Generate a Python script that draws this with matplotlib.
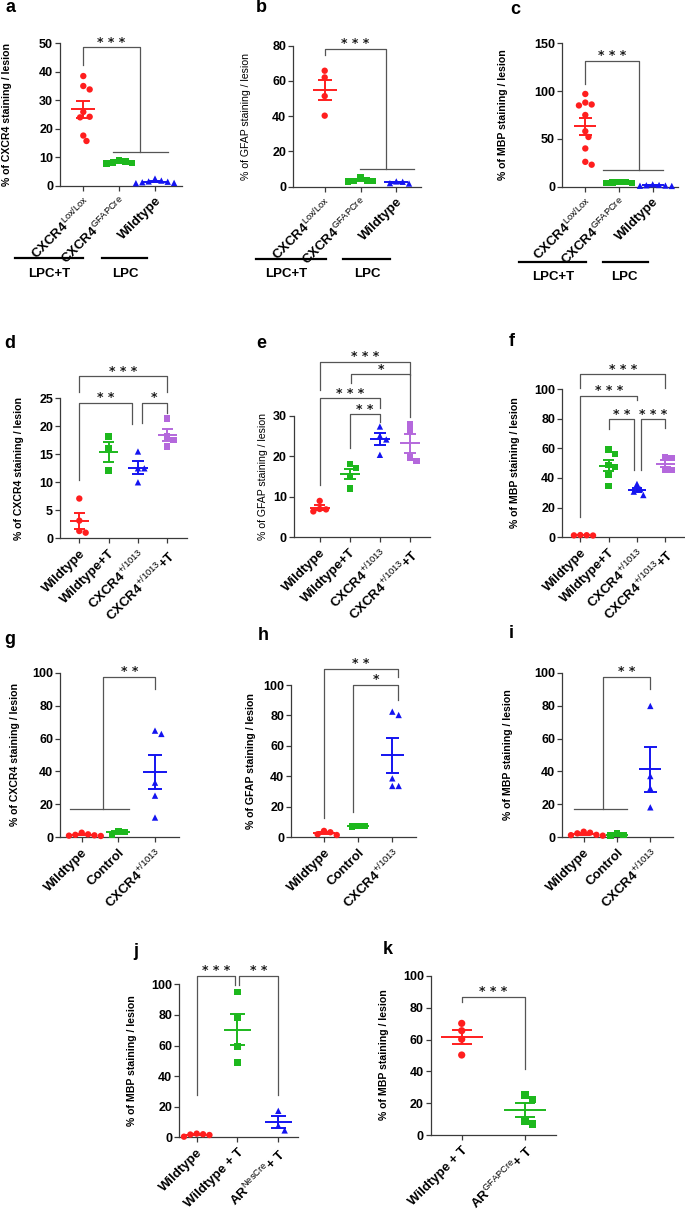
import matplotlib
matplotlib.use('Agg')
import matplotlib.pyplot as plt
from matplotlib.lines import Line2D
import numpy as np

plt.rcParams['font.family'] = ['Liberation Sans', 'DejaVu Sans']
plt.rcParams['mathtext.fontset'] = 'custom'
plt.rcParams['mathtext.rm'] = 'Liberation Sans'
plt.rcParams['mathtext.it'] = 'Liberation Sans:italic'
plt.rcParams['mathtext.bf'] = 'Liberation Sans:bold'

# ---------------- data ----------------
labels_abc = [r'CXCR4$^{\mathrm{Lox/Lox}}$', r'CXCR4$^{\mathrm{GFAPCre}}$', 'Wildtype']
labels_def = ['Wildtype', 'Wildtype+T', r'CXCR4$^{\mathrm{+/1013}}$', r'CXCR4$^{\mathrm{+/1013}}$+T']
labels_ghi = ['Wildtype', 'Control', r'CXCR4$^{\mathrm{+/1013}}$']
labels_j = ['Wildtype', 'Wildtype + T', r'AR$^{\mathrm{NesCre}}$+ T']
labels_k = ['Wildtype + T', r'AR$^{\mathrm{GFAPCre}}$+ T']

red_a = [38.5, 35.0, 33.8, 25.9, 24.2, 24.0, 17.6, 15.7]
green_a = [8.9, 8.5, 8.2, 7.8, 8.0]
blue_a = [2.5, 1.8, 1.5, 1.2, 1.0, 0.9, 1.4]

red_b = [65.8, 62.0, 51.4, 40.3]
green_b = [5.5, 3.5, 3.0, 3.2, 3.4]
blue_b = [3.0, 2.0, 2.8, 1.8]

red_c = [97, 88, 86, 85, 75, 58, 52, 40, 26, 23]
green_c = [5.0, 4.5, 4.2, 4.0, 4.6]
blue_c = [2.5, 1.5, 1.2, 1.8, 1.0, 0.8]

red_d = [7.1, 3.15, 1.0, 1.3]
green_d = [18.2, 16.1, 12.1]
blue_d = [15.5, 12.5, 12.5, 10.0]
purple_d = [21.4, 18.2, 17.5, 16.4]

red_e = [9.0, 7.0, 6.9, 6.4]
green_e = [18.1, 17.1, 15.2, 12.1]
blue_e = [27.4, 25.1, 24.2, 20.4]
purple_e = [28.0, 26.4, 19.7, 18.9]

red_f = [1.5, 1.4, 1.3, 1.2]
green_f = [59.3, 56.2, 48.8, 47.6, 42.0, 34.8]
blue_f = [36.0, 32.4, 30.8, 28.5]
purple_f = [53.7, 53.3, 45.8, 45.4]

red_g = [2.8, 1.8, 1.2, 1.5, 1.0, 0.8]
green_g = [1.4, 4.0, 3.4]
blue_g = [64.8, 62.8, 33.2, 25.3, 12.0]

red_h = [2.0, 4.2, 1.5, 3.3]
green_h = [7.0, 7.4, 7.4]
blue_h = [82.5, 80.3, 38.7, 33.7, 33.7]

red_i = [3.4, 2.4, 1.5, 2.8, 1.3, 1.0]
green_i = [1.2, 2.4, 1.5]
blue_i = [79.8, 37.2, 29.8, 18.2]

red_j = [0.4, 1.5, 2.4, 1.8, 2.0]
green_j = [94.8, 77.8, 59.3, 48.8]
blue_j = [17.3, 7.6, 4.5]

red_k = [70.2, 65.6, 60.2, 50.3]
green_k = [25.2, 22.4, 8.4, 6.9]

# ---------------- style ----------------
RED = '#FF1E1E'
GREEN = '#1DB81D'
BLUE = '#1414F0'
PURPLE = '#B468DC'
LINEC = '#555555'
SPINEC = '#3a3a3a'

W, H = 685, 1212
fig = plt.figure(figsize=(W / 100, H / 100), dpi=100)


def swarm(vals, xpx, ypx, d):
    vals = np.asarray(vals, float)
    order = np.argsort(-vals)
    placed = []
    offs = np.zeros(len(vals))
    cands = [0.0]
    for k in range(1, 40):
        cands += [k * d * 0.5, -k * d * 0.5]
    for i in order:
        y = vals[i] * ypx
        for c in cands:
            if all((c - px) ** 2 + (y - py) ** 2 >= d * d * 0.95 for px, py in placed):
                break
        placed.append((c, y))
        offs[i] = c / xpx
    return offs


def panel(box, groups, colors, markers, labels, ymax, ystep, ms=21, mean_hw=0.33, cap_hw=0.19):
    left, right, top, bottom, c0, c1 = box
    n = len(groups)
    sp = (c1 - c0) / (n - 1)
    ax = fig.add_axes([left / W, 1 - bottom / H, (right - left) / W, (bottom - top) / H])
    ax.set_xlim((left - c0) / sp, (right - c0) / sp)
    ax.set_ylim(0, ymax)
    ypx = (bottom - top) / ymax
    d = np.sqrt(ms) * 100 / 72 * 1.0
    for i, (vals, col, mk) in enumerate(zip(groups, colors, markers)):
        offs = swarm(vals, sp, ypx, d)
        ax.scatter(i + offs, vals, s=ms, marker=mk, color=col, edgecolors='none',
                   clip_on=False, zorder=3)
        v = np.asarray(vals, float)
        m = v.mean()
        se = v.std(ddof=1) / np.sqrt(len(v))
        kw = dict(color=col, lw=1.4, clip_on=False, zorder=4, solid_capstyle='butt')
        ax.plot([i - mean_hw, i + mean_hw], [m, m], **kw)
        ax.plot([i, i], [m - se, m + se], **kw)
        ax.plot([i - cap_hw, i + cap_hw], [m + se, m + se], **kw)
        ax.plot([i - cap_hw, i + cap_hw], [m - se, m - se], **kw)
    for s in ['top', 'right']:
        ax.spines[s].set_visible(False)
    for s in ['left', 'bottom']:
        ax.spines[s].set_linewidth(0.9)
        ax.spines[s].set_color(SPINEC)
    ax.set_yticks(np.arange(0, ymax + 0.001, ystep))
    ax.set_xticks(range(n))
    ax.tick_params(axis='both', length=3.5, width=0.9, color=SPINEC, direction='out')
    ax.tick_params(axis='y', labelsize=9, pad=1.5)
    for t in ax.get_yticklabels():
        t.set_fontweight('bold')
    ax.set_xticklabels(labels, rotation=45, ha='right', va='top', rotation_mode='anchor',
                       fontsize=9.5, fontweight='bold')
    ax.tick_params(axis='x', pad=3)
    ax.patch.set_alpha(0)
    return ax


def poly(ax, pts):
    xs, ys = zip(*pts)
    ax.plot(xs, ys, color=LINEC, lw=0.9, clip_on=False, zorder=2)


def stars(ax, x, y, label):
    ax.annotate(' '.join(label), (x, y), xytext=(0, 1.2), textcoords='offset points',
                ha='center', va='baseline', fontsize=9, fontweight='bold',
                family='DejaVu Sans', color='#1a1a1a', annotation_clip=False)


def bracket(ax, x1, x2, ytop, yl, yr, label):
    poly(ax, [(x1, yl), (x1, ytop), (x2, ytop), (x2, yr)])
    stars(ax, (x1 + x2) / 2, ytop, label)


def ylabel(x, ycen, text, bold=True):
    fig.text(x / W, 1 - ycen / H, text, rotation=90, ha='center', va='center',
             fontsize=7.6, fontweight='bold' if bold else 'normal')


def letter(x, y, t):
    fig.text(x / W, 1 - y / H, t, ha='center', va='center', fontsize=13, fontweight='bold')


def group_line(x0, x1, y, tx, ty, text):
    fig.add_artist(Line2D([x0 / W, x1 / W], [1 - y / H, 1 - y / H], transform=fig.transFigure,
                          color='black', lw=1.6))
    fig.text(tx / W, 1 - ty / H, text, ha='center', va='center', fontsize=9.5, fontweight='bold')


# ---------------- panel a ----------------
ax = panel((60, 182, 43.3, 185.7, 83.3, 155), [red_a, green_a, blue_a],
           [RED, GREEN, BLUE], ['o', 's', '^'], labels_abc, 50, 10)
poly(ax, [(0, 42.4), (0, 48.6), (1.58, 48.6), (1.58, 12)])
poly(ax, [(0.84, 12), (2.37, 12)])
stars(ax, 0.79, 48.6, '***')
ylabel(7, 114.5, '% of CXCR4 staining / lesion')
group_line(15, 83, 258, 48.7, 274, 'LPC+T')
group_line(102, 147, 258, 125, 274, 'LPC')
letter(10, 8, 'a')

# ---------------- panel b ----------------
ax = panel((293, 420.7, 45.7, 186.7, 324.7, 396.3), [red_b, green_b, blue_b],
           [RED, GREEN, BLUE], ['o', 's', '^'], labels_abc, 80, 20)
poly(ax, [(0, 74.7), (0, 78.3), (1.72, 78.3), (1.72, 10)])
poly(ax, [(0.98, 10), (2.49, 10)])
stars(ax, 0.86, 78.3, '***')
ylabel(246, 116, '% of GFAP staining / lesion', bold=False)
group_line(256, 325.7, 259, 286.3, 274, 'LPC+T')
group_line(343, 389.7, 259, 367, 274, 'LPC')
letter(261, 8, 'b')

# ---------------- panel c ----------------
ax = panel((562, 677.7, 43.3, 186.7, 585.3, 652.7), [red_c, green_c, blue_c],
           [RED, GREEN, BLUE], ['o', 's', '^'], labels_abc, 150, 50)
poly(ax, [(0, 107), (0, 131.5), (1.6, 131.5), (1.6, 17.4)])
poly(ax, [(0.52, 17.4), (2.3, 17.4)])
stars(ax, 0.81, 131.5, '***')
ylabel(503, 115, '% of MBP staining / lesion')
group_line(519.3, 586, 261.7, 553, 277, 'LPC+T')
group_line(602.7, 647.7, 261.7, 624.3, 277, 'LPC')
letter(515, 9, 'c')

# ---------------- panel d ----------------
ax = panel((60, 186.7, 398.3, 538.3, 79.3, 167.3), [red_d, green_d, blue_d, purple_d],
           [RED, GREEN, BLUE, PURPLE], ['o', 's', '^', 's'], labels_def, 25, 5)
bracket(ax, 0, 3, 28.9, 26.2, 26.2, '***')
bracket(ax, 0, 1.78, 24.2, 10.4, 20.5, '**')
bracket(ax, 2.125, 3, 24.2, 20.65, 22.3, '*')
ylabel(19, 468, '% of CXCR4 staining / lesion')
letter(10, 343, 'd')

# ---------------- panel e ----------------
ax = panel((293.7, 430.3, 416, 537.3, 319.7, 410), [red_e, green_e, blue_e, purple_e],
           [RED, GREEN, BLUE, PURPLE], ['o', 's', '^', 's'], labels_def, 30, 10)
bracket(ax, 0, 3, 43.4, 36.4, 40.1, '***')
bracket(ax, 1.05, 3, 40.3, 38.25, 29.8, '*')
bracket(ax, 0, 2, 34.4, 12.9, 31.9, '***')
bracket(ax, 1, 2, 30.4, 22.2, 28.6, '**')
ylabel(263, 477, '% of GFAP staining / lesion', bold=False)
letter(261, 343, 'e')

# ---------------- panel f ----------------
ax = panel((562, 684, 389, 537.3, 580.3, 665.3), [red_f, green_f, blue_f, purple_f],
           [RED, GREEN, BLUE, PURPLE], ['o', 's', '^', 's'], labels_def, 100, 20)
bracket(ax, 0, 3, 109.9, 100.4, 100.4, '***')
bracket(ax, 0, 2, 95.3, 13.9, 92.6, '***')
bracket(ax, 1, 1.906, 79.6, 72.8, 45.4, '**')
bracket(ax, 2.14, 3, 79.6, 45.4, 73.5, '***')
ylabel(515, 463, '% of MBP staining / lesion')
letter(512, 342, 'f')

# ---------------- panel g ----------------
ax = panel((60.3, 179, 672.7, 837.3, 81.7, 155), [red_g, green_g, blue_g],
           [RED, GREEN, BLUE], ['o', 's', '^'], labels_ghi, 100, 20)
poly(ax, [(-0.32, 17.2), (1.3, 17.2)])
poly(ax, [(0.59, 17.2), (0.59, 97.6), (2, 97.6), (2, 89.9)])
stars(ax, 1.3, 97.6, '**')
ylabel(15, 755, '% of CXCR4 staining / lesion')
letter(10, 639, 'g')

# ---------------- panel h ----------------
ax = panel((291.3, 416.3, 685, 837.3, 324, 392.3), [red_h, green_h, blue_h],
           [RED, GREEN, BLUE], ['o', 's', '^'], labels_ghi, 100, 20)
bracket(ax, 0, 2.17, 110.5, 12.5, 105.5, '**')
bracket(ax, 0.85, 2.17, 100, 16.8, 90.2, '*')
ylabel(250.7, 761, '% of GFAP staining / lesion')
letter(263, 635, 'h')

# ---------------- panel i ----------------
ax = panel((562, 673.3, 672.7, 837.3, 583.7, 650.3), [red_i, green_i, blue_i],
           [RED, GREEN, BLUE], ['o', 's', '^'], labels_ghi, 100, 20)
poly(ax, [(-0.28, 17.2), (1.29, 17.2)])
poly(ax, [(0.57, 17.2), (0.57, 97.6), (2, 97.6), (2, 89.9)])
stars(ax, 1.29, 97.6, '**')
ylabel(507.7, 755, '% of MBP staining / lesion')
letter(511, 634, 'i')

# ---------------- panel j ----------------
ax = panel((179.3, 298.3, 984.3, 1137.3, 196.7, 278.3), [red_j, green_j, blue_j],
           [RED, GREEN, BLUE], ['o', 's', '^'], labels_j, 100, 20)
bracket(ax, 0, 0.94, 105.4, 27.7, 99.6, '***')
bracket(ax, 1.045, 2, 105.4, 99.6, 27.7, '**')
ylabel(131.7, 1061, '% of MBP staining / lesion')
letter(136, 952, 'j')

# ---------------- panel k ----------------
ax = panel((430.7, 556, 976, 1135, 461.7, 525), [red_k, green_k],
           [RED, GREEN], ['o', 's'], labels_k, 100, 20, ms=27, cap_hw=0.16)
bracket(ax, 0, 1, 87, 83.9, 41.3, '***')
ylabel(384, 1055, '% of MBP staining / lesion')
letter(388, 949, 'k')

fig.savefig('out.png', dpi=100)
